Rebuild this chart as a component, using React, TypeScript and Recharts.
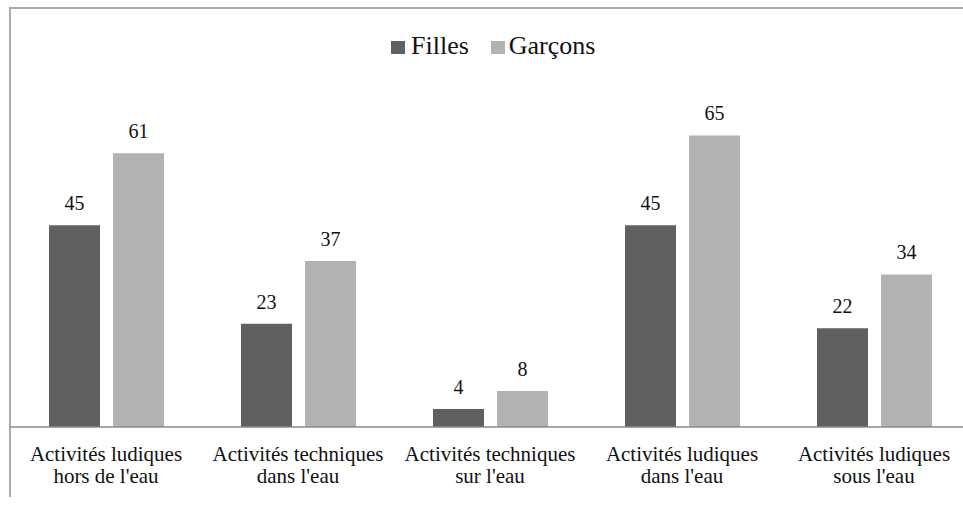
import React from "react";
import { BarChart, Bar, XAxis, YAxis, LabelList } from "recharts";

const categories = [
  "Activités ludiques hors de l'eau",
  "Activités techniques dans l'eau",
  "Activités techniques sur l'eau",
  "Activités ludiques dans l'eau",
  "Activités ludiques sous l'eau",
];
const filles = [45, 23, 4, 45, 22];
const garcons = [61, 37, 8, 65, 34];
const seriesNames = ["Filles", "Garçons"];
const seriesColors = ["#606060", "#b2b2b2"];

const data = categories.map((c, i) => ({ name: c, filles: filles[i], garcons: garcons[i] }));

const FONT = '"Liberation Serif", "Times New Roman", serif';

const CategoryTick = (props: any) => {
  const { x, y, payload } = props;
  const words = String(payload.value).split(" ");
  const l1 = words.slice(0, 2).join(" ");
  const l2 = words.slice(2).join(" ");
  return (
    <text x={x} y={y} textAnchor="middle" fontFamily={FONT} fontSize={21} fill="#111">
      <tspan x={x} y={y + 34}>{l1}</tspan>
      <tspan x={x} y={y + 56}>{l2}</tspan>
    </text>
  );
};

const LegendBlock = () => (
  <div
    style={{
      position: "absolute",
      left: 391,
      top: 33,
      display: "flex",
      alignItems: "center",
      fontFamily: FONT,
      fontSize: 26,
      lineHeight: "26px",
      color: "#111",
      whiteSpace: "nowrap",
    }}
  >
    <span style={{ display: "inline-block", width: 14, height: 13, background: seriesColors[0], marginRight: 6, marginTop: 2 }} />
    <span>{seriesNames[0]}</span>
    <span style={{ display: "inline-block", width: 14, height: 13, background: seriesColors[1], marginLeft: 22, marginRight: 4, marginTop: 2 }} />
    <span>{seriesNames[1]}</span>
  </div>
);

export default function App() {
  return (
    <div style={{ position: "absolute", left: 0, top: 0, width: 963, height: 508, overflow: "hidden", background: "#fff" }}>
      <div
        style={{
          position: "absolute",
          left: 9,
          top: 7,
          width: 1000,
          height: 490,
          borderTop: "2px solid #ababab",
          borderLeft: "2px solid #ababab",
          boxSizing: "border-box",
        }}
      />
      <div style={{ position: "absolute", left: 0, top: 0 }}>
        <BarChart
          width={975}
          height={508}
          data={data}
          margin={{ top: 113, right: 5, bottom: 0, left: 10 }}
          barSize={51}
          barGap={13}
        >
          <XAxis
            dataKey="name"
            axisLine={{ stroke: "#8a8a8a", strokeWidth: 1.5 }}
            tickLine={false}
            tickSize={0}
            tickMargin={0}
            interval={0}
            height={81}
            tick={<CategoryTick />}
          />
          <YAxis hide domain={[0, 70]} />
          <Bar dataKey="filles" name={seriesNames[0]} fill={seriesColors[0]} isAnimationActive={false}>
            <LabelList dataKey="filles" position="top" offset={15} fontFamily={FONT} fontSize={20} fill="#111" />
          </Bar>
          <Bar dataKey="garcons" name={seriesNames[1]} fill={seriesColors[1]} isAnimationActive={false}>
            <LabelList dataKey="garcons" position="top" offset={15} fontFamily={FONT} fontSize={20} fill="#111" />
          </Bar>
        </BarChart>
      </div>
      <LegendBlock />
    </div>
  );
}
